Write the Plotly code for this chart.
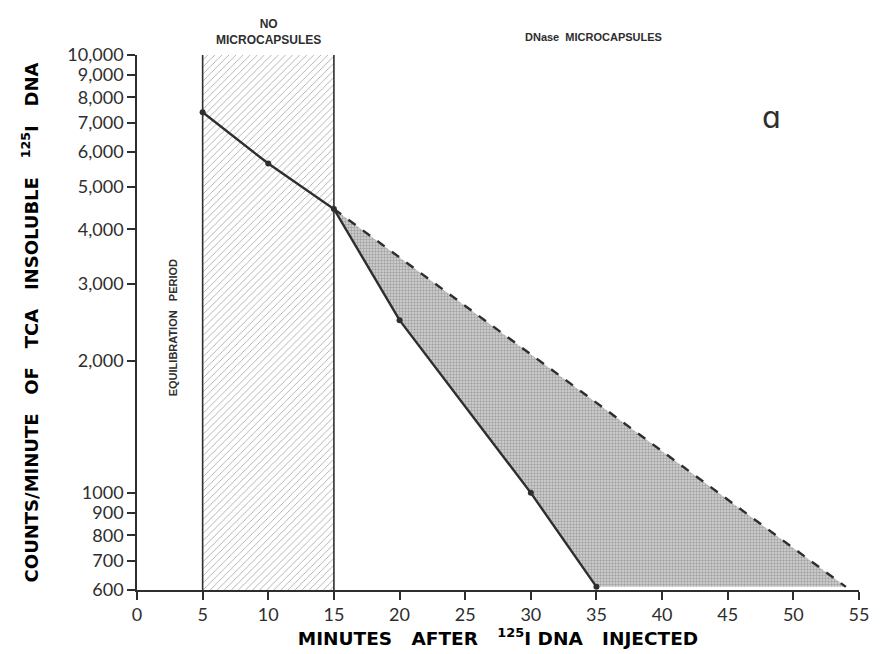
import math
import plotly.graph_objects as go

# ---- data ----
minutes = [5, 10, 15, 20, 30, 35]
counts = [7400, 5650, 4450, 2480, 1000, 610]
expected_minutes = [15, 54]
expected_counts = [4450, 610]
equil_period = [5, 15]
y_limits = [600, 10000]
x_ticks = [0, 5, 10, 15, 20, 25, 30, 35, 40, 45, 50, 55]
y_ticks = [600, 700, 800, 900, 1000, 2000, 3000, 4000, 5000, 6000, 7000, 8000, 9000, 10000]
y_tick_labels = ["600", "700", "800", "900", "1000", "2,000", "3,000", "4,000",
                 "5,000", "6,000", "7,000", "8,000", "9,000", "10,000"]

INK = "#2e2e2e"
TICKFONT = dict(family="Lato", size=18, color=INK)
SP = "&nbsp;&nbsp;&nbsp;"

fig = go.Figure()

# hatched equilibration region
fig.add_trace(go.Scatter(
    x=[equil_period[0], equil_period[0], equil_period[1], equil_period[1], equil_period[0]],
    y=[y_limits[0], y_limits[1], y_limits[1], y_limits[0], y_limits[0]],
    mode="lines", line=dict(width=0), fill="toself", fillcolor="white",
    fillpattern=dict(shape="/", fgcolor="#3a3a3a", bgcolor="white", size=5, solidity=0.15),
    hoverinfo="skip", showlegend=False))

# stippled region between observed and expected decline
poly_x = [expected_minutes[0], expected_minutes[1]] + minutes[::-1][:4]
poly_y = [expected_counts[0], expected_counts[1]] + counts[::-1][:4]
fig.add_trace(go.Scatter(
    x=poly_x + [poly_x[0]], y=poly_y + [poly_y[0]],
    mode="lines", line=dict(width=0), fill="toself", fillcolor="#c8c8c8",
    fillpattern=dict(shape=".", fgcolor="#707070", bgcolor="#d6d6d6", size=3, solidity=0.5),
    hoverinfo="skip", showlegend=False))

# expected (dashed)
fig.add_trace(go.Scatter(
    x=expected_minutes, y=expected_counts, mode="lines",
    line=dict(color=INK, width=2.4, dash="dash"), showlegend=False))

# observed
fig.add_trace(go.Scatter(
    x=minutes, y=counts, mode="lines+markers",
    line=dict(color=INK, width=2.4), marker=dict(color=INK, size=6),
    showlegend=False))

# vertical borders of equilibration period
for xv in equil_period:
    fig.add_shape(type="line", x0=xv, x1=xv, y0=0, y1=1, xref="x", yref="paper",
                  line=dict(color=INK, width=1.6))

fig.update_xaxes(
    range=[0, 55], tickmode="array", tickvals=x_ticks,
    ticktext=[str(t) for t in x_ticks], ticks="outside", ticklen=8,
    tickwidth=1.5, tickcolor=INK, showline=True, linecolor=INK, linewidth=1.6,
    showgrid=False, zeroline=False, tickfont=TICKFONT,
    title=dict(text=f"<b>MINUTES{SP}AFTER{SP}<sup>125</sup>I&nbsp;DNA{SP}INJECTED</b>",
               font=dict(family="DejaVu Sans", size=18.5, color="black"), standoff=4))

fig.update_yaxes(
    type="log", range=[math.log10(y_limits[0]), math.log10(y_limits[1])],
    tickmode="array", tickvals=y_ticks,
    ticktext=y_tick_labels, ticks="outside", ticklen=8, tickwidth=1.5,
    tickcolor=INK, showline=True, linecolor=INK, linewidth=1.6,
    showgrid=False, zeroline=False, tickfont=TICKFONT,
    title=dict(text=f"<b>COUNTS/MINUTE{SP}OF{SP}TCA{SP}INSOLUBLE{SP}<sup>125</sup>I{SP}DNA</b>",
               font=dict(family="DejaVu Sans", size=18, color="black"), standoff=24))

fig.add_annotation(text="<b>NO<br>MICROCAPSULES</b>", x=10, y=1.0, xref="x", yref="paper",
                   yanchor="bottom", yshift=6, showarrow=False,
                   font=dict(family="Liberation Sans", size=12, color=INK))
fig.add_annotation(text="<b>DNase&nbsp;&nbsp;MICROCAPSULES</b>", x=34.8, y=1.0, xref="x", yref="paper",
                   yanchor="bottom", yshift=10, showarrow=False,
                   font=dict(family="Liberation Sans", size=11, color=INK))
fig.add_annotation(text="<b>EQUILIBRATION&nbsp;&nbsp;&nbsp;PERIOD</b>", x=2.7, y=0.49, xref="x", yref="paper",
                   textangle=-90, showarrow=False,
                   font=dict(family="Liberation Sans", size=11, color=INK))
fig.add_annotation(text="ɑ", x=48.3, y=math.log10(7200), xref="x", yref="y", showarrow=False,
                   font=dict(family="DejaVu Sans", size=30, color=INK))

fig.update_layout(
    width=881, height=654, margin=dict(l=137, r=15, t=55, b=63),
    plot_bgcolor="white", paper_bgcolor="white", showlegend=False,
    font=dict(family="Liberation Sans", color=INK))

fig.write_html("out.html")
